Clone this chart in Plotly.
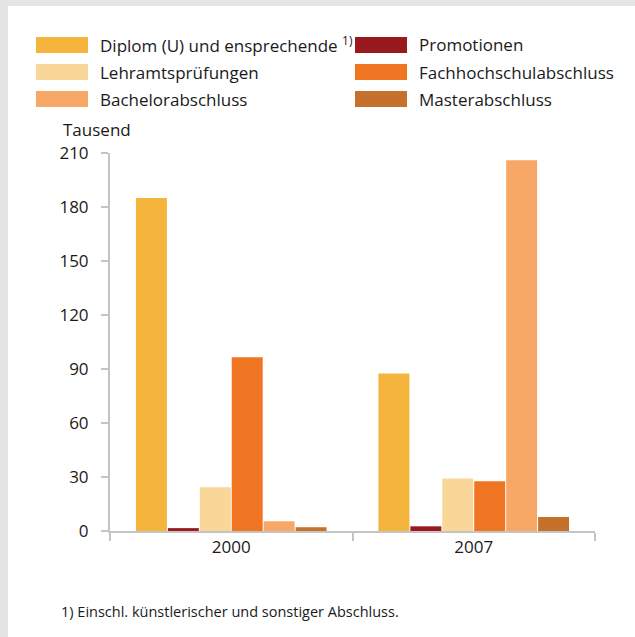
import plotly.graph_objects as go

years = ['2000', '2007']
series_names = ['Diplom (U) und ensprechende <sup>1)</sup>', 'Promotionen',
                'Lehramtsprüfungen', 'Fachhochschulabschluss',
                'Bachelorabschluss', 'Masterabschluss']
series_colors = ['#f5b53c', '#98191e', '#f9d799', '#f07522', '#f7a866', '#c5712c']

diplom = [185, 87.5]
promotionen = [1.6, 2.6]
lehramt = [24.3, 29.2]
fachhochschule = [96.5, 27.6]
bachelor = [5.4, 206]
master = [2.1, 7.8]
series_values = [diplom, promotionen, lehramt, fachhochschule, bachelor, master]

y_ticks = [0, 30, 60, 90, 120, 150, 180, 210]

W, H = 635, 637
L, R, T, B = 110, 40, 153, 106
FONT = 'Open Sans'
TXT = '#1a1a1a'


def px_x(x):
    return (x - L) / (W - L - R)


def px_y(y):
    return (H - B - y) / (H - T - B)


fig = go.Figure()
for name, vals, col in zip(series_names, series_values, series_colors):
    fig.add_trace(go.Bar(x=years, y=vals, name=name, marker_color=col,
                         marker_line_width=0, showlegend=False))

# grey frame on the left and top edge
shapes = [
    dict(type='rect', xref='paper', yref='paper', x0=px_x(0), x1=px_x(8),
         y0=px_y(H), y1=px_y(0), fillcolor='#e5e5e5', line_width=0, layer='below'),
    dict(type='rect', xref='paper', yref='paper', x0=px_x(0), x1=px_x(W),
         y0=px_y(6), y1=px_y(0), fillcolor='#e5e5e5', line_width=0, layer='below'),
]
annotations = []

# manual legend, two columns of three rows
col_x = [36, 355]
row_y = [45, 72, 99]
for i, (name, col) in enumerate(zip(series_names, series_colors)):
    cx = col_x[i % 2]
    cy = row_y[i // 2]
    shapes.append(dict(type='rect', xref='paper', yref='paper',
                       x0=px_x(cx), x1=px_x(cx + 52),
                       y0=px_y(cy + 8), y1=px_y(cy - 8),
                       fillcolor=col, line_width=0))
    annotations.append(dict(xref='paper', yref='paper', x=px_x(cx + 62), y=px_y(cy),
                            xanchor='left', yanchor='middle', text=name,
                            showarrow=False, font=dict(size=17, color=TXT)))

annotations.append(dict(xref='paper', yref='paper', x=px_x(61), y=px_y(130),
                        xanchor='left', yanchor='middle', text='Tausend',
                        showarrow=False, font=dict(size=17, color=TXT)))
annotations.append(dict(xref='paper', yref='paper', x=px_x(59), y=px_y(611),
                        xanchor='left', yanchor='middle',
                        text='1) Einschl. künstlerischer und sonstiger Abschluss.',
                        showarrow=False, font=dict(size=14.5, color=TXT)))

fig.update_layout(
    width=W, height=H,
    margin=dict(l=L, r=R, t=T, b=B, pad=0),
    paper_bgcolor='white', plot_bgcolor='white',
    font=dict(family=FONT, size=17, color=TXT),
    barmode='group', bargap=0.21, bargroupgap=0.03,
    shapes=shapes, annotations=annotations,
)
fig.update_xaxes(showline=True, linecolor='#c4c4c4', linewidth=2,
                 ticks='outside', tickson='boundaries', ticklen=8,
                 tickwidth=2, tickcolor='#c4c4c4', showgrid=False)
fig.update_yaxes(range=[0, 210], tickvals=y_ticks, showline=True,
                 linecolor='#c4c4c4', linewidth=2, ticks='outside', ticklen=7,
                 tickwidth=2, tickcolor='#c4c4c4', showgrid=False,
                 zeroline=False, ticklabelstandoff=9)

fig.write_html('out.html', config={'displayModeBar': False},
               post_script="document.body.style.margin='0';")
